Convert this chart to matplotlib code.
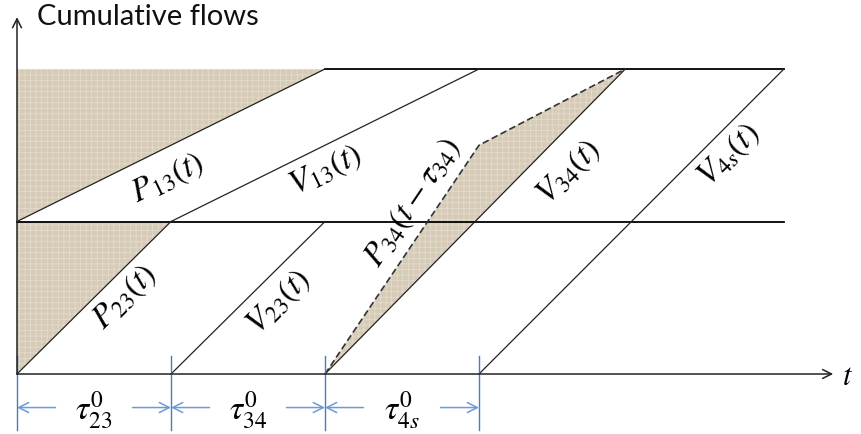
import numpy as np
import matplotlib.pyplot as plt

plt.rcParams['mathtext.fontset'] = 'stix'
plt.rcParams['hatch.color'] = '#e6ddcf'
plt.rcParams['hatch.linewidth'] = 0.5

# free-flow travel times (time units) and flow levels
tau_labels = [r'$\tau^{0}_{23}$', r'$\tau^{0}_{34}$', r'$\tau^{0}_{4s}$']
tau = [1.0, 1.0, 1.0]
levels = [1.0, 2.0]

# cumulative flow curves: (time, flow)
t_p13, p13 = [0.0, 2.0], [1.0, 2.0]
t_v13, v13 = [1.0, 3.0], [1.0, 2.0]
t_p23, p23 = [0.0, 1.0], [0.0, 1.0]
t_v23, v23 = [1.0, 2.0], [0.0, 1.0]
t_p34, p34 = [2.0, 3.0, 3.95], [0.0, 1.5, 2.0]
t_v34, v34 = [2.0, 3.95], [0.0, 2.0]
t_v4s, v4s = [3.0, 4.98], [0.0, 2.0]

fig = plt.figure(figsize=(8.61, 4.35), dpi=100)
ax = fig.add_axes([0, 0, 1, 1])
ax.set_xlim(-17 / 154, (861 - 17) / 154)
ax.set_ylim(-(435 - 375) / 152.5, 375 / 152.5)
ax.axis('off')

shade = '#d6cbb7'
ax.fill_between(t_p13, p13, levels[1], facecolor=shade, hatch='+++', linewidth=0)
ax.fill_between(t_p23, p23, levels[0], facecolor=shade, hatch='+++', linewidth=0)
ax.fill(np.r_[t_p34, t_v34[::-1]], np.r_[p34, v34[::-1]],
        facecolor=shade, hatch='+++', linewidth=0)

# horizontal flow levels
ax.plot([0, t_v4s[-1]], [levels[0]] * 2, color='black', lw=1.3)
ax.plot([t_p13[-1], t_v4s[-1]], [levels[1]] * 2, color='black', lw=1.3)

for tt, ff in [(t_p13, p13), (t_v13, v13), (t_p23, p23), (t_v23, v23),
               (t_v34, v34), (t_v4s, v4s)]:
    ax.plot(tt, ff, color='#222222', lw=0.9)
ax.plot(t_p34, p34, color='#333333', lw=1.2, ls=(0, (4, 2)))

# axes with open arrows
ax.annotate('', xy=(5.30, 0), xytext=(0, 0),
            arrowprops=dict(arrowstyle='->', lw=1.1, color='#222222',
                            shrinkA=0, shrinkB=0, mutation_scale=16))
ax.annotate('', xy=(0, 2.34), xytext=(0, 0),
            arrowprops=dict(arrowstyle='->', lw=1.1, color='#222222',
                            shrinkA=0, shrinkB=0, mutation_scale=16))
ax.text(5.36, -0.01, r'$t$', fontsize=22, ha='left', va='center')
ax.text(0.13, 2.35, 'Cumulative flows', fontsize=21, family='Lato',
        ha='left', va='center', color='#111111')

# curve labels
lab = dict(fontsize=24, ha='center', va='center', rotation_mode='anchor')
ax.text(0.98, 1.29, r'$P_{13}(t)$', rotation=26, **lab)
ax.text(2.00, 1.34, r'$V_{13}(t)$', rotation=26, **lab)
ax.text(0.70, 0.51, r'$P_{23}(t)$', rotation=45, **lab)
ax.text(1.70, 0.48, r'$V_{23}(t)$', rotation=45, **lab)
ax.text(2.57, 1.13, r'$P_{34}(t-\tau_{34})$', rotation=56, **lab)
ax.text(3.58, 1.33, r'$V_{34}(t)$', rotation=45, **lab)
ax.text(4.62, 1.44, r'$V_{4s}(t)$', rotation=45, **lab)

# dimension arrows below the time axis
blue = '#4a7ebb'
edges = np.r_[0, np.cumsum(tau)]
for e in edges:
    ax.plot([e, e], [0.12, -0.37], color=blue, lw=1.0)
y_dim = -0.22
for a, b, s in zip(edges[:-1], edges[1:], tau_labels):
    m = (a + b) / 2
    ax.annotate('', xy=(a, y_dim), xytext=(m - 0.25, y_dim),
                arrowprops=dict(arrowstyle='->', color='#6d9bd6', lw=1.1,
                                shrinkA=0, shrinkB=0, mutation_scale=18))
    ax.annotate('', xy=(b, y_dim), xytext=(m + 0.25, y_dim),
                arrowprops=dict(arrowstyle='->', color='#6d9bd6', lw=1.1,
                                shrinkA=0, shrinkB=0, mutation_scale=18))
    ax.text(m, y_dim - 0.01, s, fontsize=24, ha='center', va='center')

fig.savefig('out.png', dpi=100)
